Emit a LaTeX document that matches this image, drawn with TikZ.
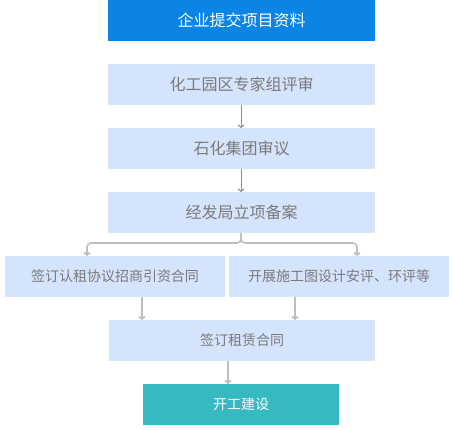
\documentclass[tikz,border=0pt]{standalone}
\usepackage{fontspec}
\setmainfont{Noto Sans CJK SC}
\usetikzlibrary{arrows.meta}
\definecolor{topblue}{HTML}{0A85E6}
\definecolor{lightbox}{HTML}{D4E4FC}
\definecolor{tealbox}{HTML}{36B9C1}
\definecolor{txtgray}{HTML}{7A7A7A}
\definecolor{arrdark}{HTML}{8C8C8C}
\definecolor{arrlight}{HTML}{BEBEBE}
\tikzset{
  boxbase/.style={inner sep=0pt, outer sep=0pt, minimum height=41pt},
  lightnode/.style={boxbase, fill=lightbox, text=txtgray},
  bigtxt/.style={font=\fontsize{16pt}{18pt}\selectfont},
  smalltxt/.style={font=\fontsize{14pt}{16pt}\selectfont},
  darkarrow/.style={draw=arrdark, line width=1pt, -{Straight Barb[length=2.5pt,width=6pt]}},
  lightarrow/.style={draw=arrlight, line width=1.6pt, -{Straight Barb[length=2.5pt,width=6pt]}},
}
\begin{document}
\begin{tikzpicture}[x=1pt,y=-1pt]
\useasboundingbox (0,0) rectangle (453,429);
\node[boxbase, fill=topblue, text=white, bigtxt, minimum width=267pt] (b1) at (241.5,20.5) {企业提交项目资料};
\node[lightnode, bigtxt, minimum width=267pt] (b2) at (241.5,84.5) {化工园区专家组评审};
\node[lightnode, bigtxt, minimum width=267pt] (b3) at (241.5,148.5) {石化集团审议};
\node[lightnode, bigtxt, minimum width=267pt] (b4) at (241.5,212.5) {经发局立项备案};
\node[lightnode, smalltxt, minimum width=220pt] (bl) at (115,276.5) {签订认租协议招商引资合同};
\node[lightnode, smalltxt, minimum width=220pt] (br) at (339,276.5) {开展施工图设计安评、环评等};
\node[lightnode, smalltxt, minimum width=266pt] (b5) at (242,340.5) {签订租赁合同};
\node[boxbase, fill=tealbox, text=white, smalltxt, minimum width=196pt] (b6) at (241,404.5) {开工建设};
\coordinate (xc) at (241,0);
\coordinate (xbl) at (87,0);
\coordinate (xbr) at (357,0);
\coordinate (xl) at (142,0);
\coordinate (xr) at (295,0);
\coordinate (xm) at (228,0);
\coordinate (ysplit) at (0,243);
\draw[darkarrow] (b2.south -| xc) -- (b3.north -| xc);
\draw[darkarrow] (b3.south -| xc) -- (b4.north -| xc);
\draw[lightarrow, rounded corners=4pt] (b4.south -| xc) |- (ysplit -| xbl) -- (bl.north -| xbl);
\draw[lightarrow, rounded corners=4pt] (b4.south -| xc) |- (ysplit -| xbr) -- (br.north -| xbr);
\draw[lightarrow] (bl.south -| xl) -- (b5.north -| xl);
\draw[lightarrow] (br.south -| xr) -- (b5.north -| xr);
\draw[lightarrow] (b5.south -| xm) -- (b6.north -| xm);
\end{tikzpicture}
\end{document}
